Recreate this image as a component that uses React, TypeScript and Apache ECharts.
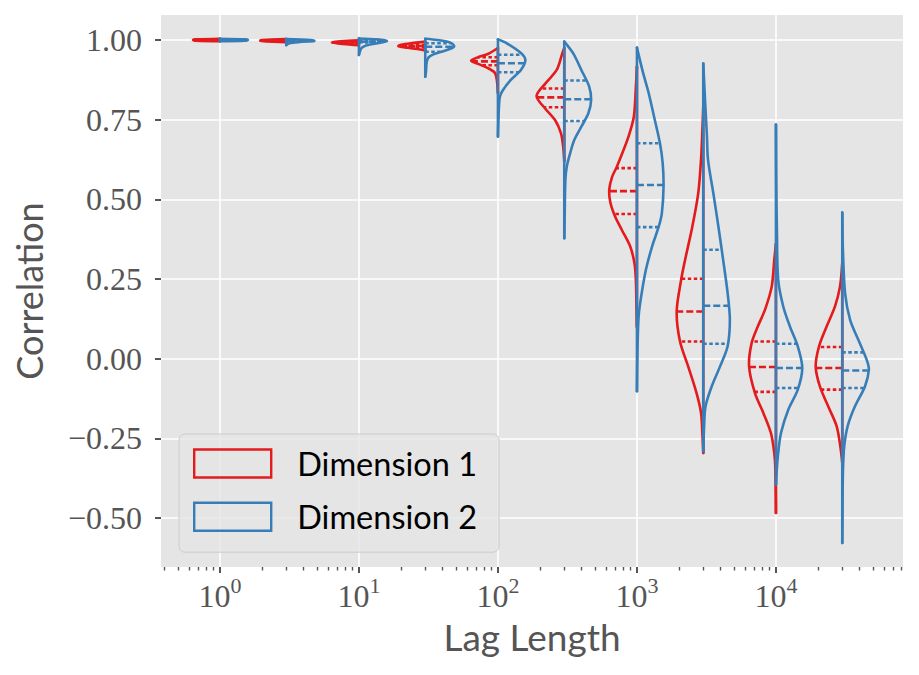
import React, { useEffect, useRef } from "react";
import * as echarts from "echarts";

const RED = "#E41A1C";
const BLUE = "#377EB8";

const lags = [1, 3, 10, 30, 100, 300, 1000, 3000, 10000, 30000];

// Kernel density outlines: [correlation, relative density]
const dim1Density: number[][][] = [
  [[1.004, 0], [1.002, 0.86], [1.0, 0.96], [0.998, 0.86], [0.996, 0]],
  [[1.003, 0], [1.0, 0.86], [0.998, 0.93], [0.996, 0.79], [0.993, 0]],
  [[0.999, 0], [0.996, 0.64], [0.992, 0.96], [0.988, 0.57], [0.984, 0]],
  [[0.995, 0], [0.99, 0.5], [0.985, 0.86], [0.981, 0.96], [0.977, 0.71], [0.972, 0.29], [0.967, 0]],
  [[0.975, 0], [0.956, 0.36], [0.946, 0.71], [0.935, 0.96], [0.925, 0.71], [0.912, 0.36], [0.897, 0.11], [0.875, 0.04], [0.834, 0]],
  [[0.975, 0], [0.958, 0.07], [0.906, 0.27], [0.864, 0.67], [0.824, 0.99], [0.786, 0.69], [0.749, 0.33], [0.708, 0.12], [0.666, 0.04], [0.62, 0]],
  [[0.917, 0], [0.85, 0.04], [0.76, 0.11], [0.7, 0.29], [0.65, 0.5], [0.6, 0.73], [0.57, 0.89], [0.53, 0.99], [0.49, 0.95], [0.446, 0.78], [0.404, 0.54], [0.352, 0.24], [0.3, 0.09], [0.25, 0.04], [0.18, 0.02], [0.1, 0]],
  [[0.79, 0], [0.7, 0.04], [0.624, 0.08], [0.519, 0.18], [0.415, 0.39], [0.31, 0.65], [0.248, 0.79], [0.148, 0.95], [0.054, 0.83], [-0.024, 0.54], [-0.108, 0.24], [-0.17, 0.08], [-0.238, 0.03], [-0.296, 0]],
  [[0.36, 0], [0.31, 0.06], [0.227, 0.15], [0.154, 0.39], [0.101, 0.65], [0.049, 0.87], [-0.024, 0.96], [-0.108, 0.75], [-0.17, 0.45], [-0.233, 0.18], [-0.296, 0.06], [-0.348, 0.02], [-0.484, 0]],
  [[0.3, 0], [0.227, 0.08], [0.164, 0.26], [0.101, 0.56], [0.039, 0.83], [-0.024, 0.95], [-0.087, 0.8], [-0.15, 0.5], [-0.212, 0.2], [-0.275, 0.07], [-0.327, 0]],
];

const dim2Density: number[][][] = [
  [[1.004, 0], [1.002, 0.89], [1.0, 1.0], [0.998, 0.89], [0.996, 0]],
  [[1.003, 0], [1.0, 0.89], [0.997, 1.0], [0.994, 0.5], [0.99, 0.11], [0.984, 0]],
  [[1.005, 0], [1.002, 0.64], [0.997, 1.0], [0.99, 0.68], [0.983, 0.25], [0.975, 0.09], [0.965, 0.04], [0.953, 0]],
  [[1.004, 0], [1.0, 0.43], [0.993, 0.86], [0.982, 1.03], [0.975, 0.96], [0.965, 0.64], [0.955, 0.29], [0.945, 0.11], [0.93, 0.05], [0.9, 0.025], [0.885, 0]],
  [[1.002, 0], [0.991, 0.29], [0.959, 0.82], [0.937, 0.98], [0.906, 0.82], [0.875, 0.46], [0.843, 0.18], [0.822, 0.07], [0.78, 0.03], [0.697, 0]],
  [[0.995, 0], [0.958, 0.32], [0.906, 0.61], [0.854, 0.89], [0.812, 0.96], [0.77, 0.86], [0.728, 0.61], [0.687, 0.36], [0.645, 0.21], [0.603, 0.09], [0.561, 0.04], [0.45, 0.015], [0.378, 0]],
  [[0.976, 0], [0.9, 0.21], [0.833, 0.42], [0.76, 0.61], [0.677, 0.82], [0.613, 0.92], [0.54, 0.95], [0.457, 0.89], [0.415, 0.78], [0.352, 0.54], [0.279, 0.32], [0.195, 0.15], [0.133, 0.06], [0.03, 0.02], [-0.102, 0]],
  [[0.926, 0], [0.8, 0.07], [0.7, 0.13], [0.624, 0.17], [0.519, 0.36], [0.415, 0.54], [0.31, 0.71], [0.206, 0.87], [0.122, 0.95], [0.039, 0.87], [-0.024, 0.6], [-0.087, 0.3], [-0.15, 0.08], [-0.223, 0.025], [-0.29, 0]],
  [[0.735, 0], [0.55, 0.01], [0.4, 0.035], [0.248, 0.08], [0.164, 0.26], [0.101, 0.5], [0.039, 0.78], [-0.029, 0.94], [-0.097, 0.78], [-0.16, 0.44], [-0.233, 0.18], [-0.296, 0.08], [-0.348, 0.03], [-0.395, 0]],
  [[0.459, 0], [0.35, 0.02], [0.206, 0.1], [0.122, 0.28], [0.06, 0.57], [-0.003, 0.87], [-0.034, 0.95], [-0.087, 0.81], [-0.15, 0.45], [-0.212, 0.19], [-0.275, 0.07], [-0.35, 0.025], [-0.45, 0.01], [-0.578, 0]],
];

// [q1, median, q3]
const dim1Quartiles = [
  [0.9995, 1.0, 1.0005],
  [0.997, 0.998, 0.999],
  [0.99, 0.992, 0.994],
  [0.977, 0.981, 0.985],
  [0.921, 0.933, 0.946],
  [0.789, 0.82, 0.848],
  [0.454, 0.526, 0.598],
  [0.054, 0.148, 0.251],
  [-0.104, -0.026, 0.054],
  [-0.097, -0.029, 0.037],
];

const dim2Quartiles = [
  [0.9995, 1.0, 1.0005],
  [0.996, 0.998, 0.999],
  [0.992, 0.995, 0.998],
  [0.963, 0.979, 0.99],
  [0.899, 0.927, 0.954],
  [0.746, 0.814, 0.873],
  [0.413, 0.545, 0.676],
  [0.047, 0.166, 0.342],
  [-0.092, -0.029, 0.047],
  [-0.092, -0.037, 0.02],
];

const xTickExponents = [0, 1, 2, 3, 4];
const yTickValues = [-0.5, -0.25, 0, 0.25, 0.5, 0.75, 1.0];
const minorTickLags = [
  0.4, 0.5, 0.6, 0.7, 0.8, 0.9,
  2, 3, 4, 5, 6, 7, 8, 9,
  20, 30, 40, 50, 60, 70, 80, 90,
  200, 300, 400, 500, 600, 700, 800, 900,
  2000, 3000, 4000, 5000, 6000, 7000, 8000, 9000,
  20000, 30000, 40000, 50000, 60000, 70000, 80000,
];

const X_MIN = -0.424;
const X_MAX = 4.914;
const Y_MIN = -0.6535;
const Y_MAX = 1.0785;
const HALF_WIDTH = 0.2014; // decades per unit of relative density
const LW = 2.6;

const SANS = "Lato";
const SERIF = "Liberation Serif";
const TEXT_GRAY = "#555555";
const TICK_COLOR = "#555555";

function densityAt(prof: number[][], q: number): number {
  for (let k = 0; k < prof.length - 1; k++) {
    const [v0, d0] = prof[k];
    const [v1, d1] = prof[k + 1];
    if ((q <= v0 && q >= v1) || (q >= v0 && q <= v1)) {
      const t = v0 === v1 ? 0 : (q - v0) / (v1 - v0);
      return d0 + t * (d1 - d0);
    }
  }
  return 0;
}

function makeRenderItem(profiles: number[][][], quartiles: number[][], side: number, color: string) {
  return (params: any, api: any) => {
    const i = params.dataIndex;
    const cx = Math.log10(lags[i]);
    const prof = profiles[i];
    const pts = prof.map(([v, d]) => api.coord([cx + side * d * HALF_WIDTH, v]));
    const top = api.coord([cx, prof[0][0]]);
    const bottom = api.coord([cx, prof[prof.length - 1][0]]);
    const children: any[] = [
      {
        type: "polyline",
        shape: { points: pts, smooth: 0.3 },
        style: { fill: null, stroke: color, lineWidth: LW, lineJoin: "round", lineCap: "round" },
      },
      {
        type: "line",
        shape: { x1: top[0], y1: top[1], x2: bottom[0], y2: bottom[1] },
        style: { stroke: color, lineWidth: LW, lineCap: "round" },
      },
    ];
    quartiles[i].forEach((q, k) => {
      const d = densityAt(prof, q);
      const a = api.coord([cx, q]);
      const b = api.coord([cx + side * d * HALF_WIDTH, q]);
      children.push({
        type: "line",
        shape: { x1: a[0], y1: a[1], x2: b[0], y2: b[1] },
        style: {
          stroke: color,
          lineWidth: LW,
          lineDash: k === 1 ? [7, 3] : [3.5, 2.5],
        },
      });
    });
    return { type: "group", children };
  };
}

function fmtY(v: number): string {
  const s = Math.abs(v).toFixed(2);
  return v < 0 ? "\u2212" + s : s;
}

export default function App() {
  const ref = useRef<HTMLDivElement>(null);
  useEffect(() => {
    const chart = echarts.init(ref.current!, null, { renderer: "svg" });
    const option: any = {
      animation: false,
      backgroundColor: "#ffffff",
      grid: {
        left: 161,
        top: 15,
        width: 742,
        height: 552,
        show: true,
        backgroundColor: "#E5E5E5",
        borderWidth: 0,
      },
      legend: {
        orient: "vertical",
        left: 179,
        top: 434,
        itemWidth: 77,
        itemHeight: 28,
        itemGap: 20.2,
        padding: [13, 22, 19, 14],
        backgroundColor: "rgba(229,229,229,0.8)",
        borderColor: "#cccccc",
        borderWidth: 1,
        borderRadius: 6,
        selectedMode: false,
        textStyle: {
          fontFamily: SANS,
          fontSize: 32.5,
          color: "#000000",
          padding: [0, 0, 0, 21],
        },
        data: [
          { name: "Dimension 1", icon: "rect", itemStyle: { color: "rgba(0,0,0,0)", borderColor: RED, borderWidth: 2.4 } },
          { name: "Dimension 2", icon: "rect", itemStyle: { color: "rgba(0,0,0,0)", borderColor: BLUE, borderWidth: 2.4 } },
        ],
      },
      xAxis: [
        {
          type: "value",
          min: X_MIN,
          max: X_MAX,
          position: "bottom",
          axisLine: { show: false, onZero: false },
          axisTick: {
            show: true,
            length: 6,
            customValues: xTickExponents,
            lineStyle: { color: TICK_COLOR, width: 2 },
          },
          axisLabel: {
            customValues: xTickExponents,
            margin: 7,
            formatter: (v: number) => `{b|10}{s|${Math.round(v)}}`,
            rich: {
              b: { fontFamily: SERIF, fontSize: 32, color: TEXT_GRAY, lineHeight: 44 },
              s: { fontFamily: SERIF, fontSize: 22, color: TEXT_GRAY, lineHeight: 16, verticalAlign: "top" },
            },
          },
          splitLine: { show: true, lineStyle: { color: "#ffffff", width: 1.6 } },
          name: "Lag Length",
          nameLocation: "middle",
          nameGap: 51,
          nameTextStyle: { fontFamily: SANS, fontSize: 37, color: TEXT_GRAY },
        },
        {
          type: "value",
          min: X_MIN,
          max: X_MAX,
          position: "bottom",
          axisLine: { show: false, onZero: false },
          axisTick: {
            show: true,
            length: 3.5,
            customValues: minorTickLags.map((l) => Math.log10(l)),
            lineStyle: { color: TICK_COLOR, width: 1.4 },
          },
          axisLabel: { show: false },
          splitLine: { show: false },
        },
      ],
      yAxis: {
        type: "value",
        min: Y_MIN,
        max: Y_MAX,
        axisLine: { show: false, onZero: false },
        axisTick: {
          show: true,
          length: 6,
          customValues: yTickValues,
          lineStyle: { color: TICK_COLOR, width: 2 },
        },
        axisLabel: {
          customValues: yTickValues,
          margin: 19,
          formatter: fmtY,
          fontFamily: SERIF,
          fontSize: 32,
          color: TEXT_GRAY,
        },
        splitLine: { show: true, lineStyle: { color: "#ffffff", width: 1.6 } },
        name: "Correlation",
        nameLocation: "middle",
        nameGap: 114,
        nameTextStyle: { fontFamily: SANS, fontSize: 36, color: TEXT_GRAY },
      },
      series: [
        {
          type: "custom",
          name: "Dimension 1",
          silent: true,
          clip: false,
          itemStyle: { color: RED },
          encode: { x: 0, y: 1 },
          data: lags.map((l, i) => [Math.log10(l), dim1Quartiles[i][1]]),
          renderItem: makeRenderItem(dim1Density, dim1Quartiles, -1, RED),
        },
        {
          type: "custom",
          name: "Dimension 2",
          silent: true,
          clip: false,
          itemStyle: { color: BLUE },
          encode: { x: 0, y: 1 },
          data: lags.map((l, i) => [Math.log10(l), dim2Quartiles[i][1]]),
          renderItem: makeRenderItem(dim2Density, dim2Quartiles, 1, BLUE),
        },
      ],
    };
    chart.setOption(option);
    return () => chart.dispose();
  }, []);
  return (
    <div
      ref={ref}
      style={{ position: "fixed", left: 0, top: 0, width: 919, height: 675 }}
    />
  );
}
